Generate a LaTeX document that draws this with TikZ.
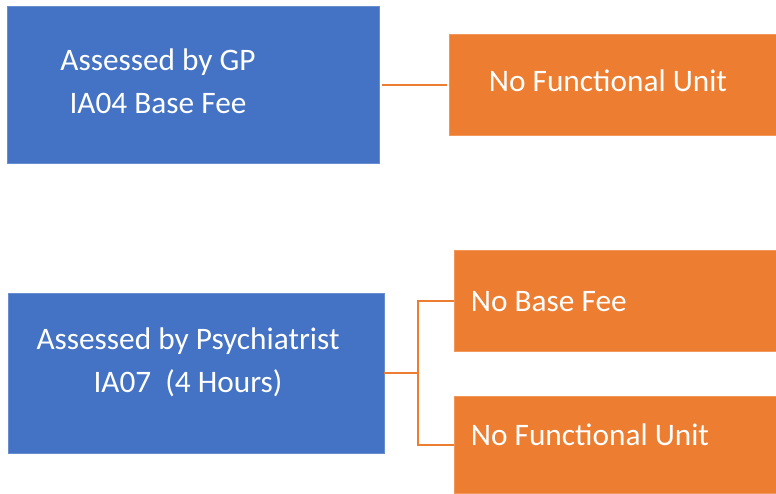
\documentclass[tikz,border=0pt]{standalone}
\usepackage{fontspec}
\setmainfont{Carlito}
\usetikzlibrary{positioning}
\definecolor{gpblue}{HTML}{4472C4}
\definecolor{feeorange}{HTML}{ED7D31}

\begin{document}
\begin{tikzpicture}[x=1pt, y=-1pt,
    bluebox/.style={fill=gpblue, draw=gpblue!80!white, line width=0.6pt, inner sep=0pt},
    orangebox/.style={fill=feeorange, draw=feeorange!80!white, line width=0.6pt, inner sep=0pt},
    boxtext/.style={text=white, inner sep=0pt, align=center, font=\fontsize{31.3}{43}\selectfont},
    link/.style={draw=feeorange, line width=2pt}]
    % Page
    \useasboundingbox (0,0) rectangle (776,493);
    % Boxes
    \node[bluebox, minimum width=372pt, minimum height=157pt] (gp) at (193,84.5) {};
    \node[bluebox, minimum width=376pt, minimum height=160pt] (psy) at (196,373) {};
    \node[orangebox, minimum width=327pt, minimum height=101pt] (nofu) at (612.5,84.5) {};
    \node[orangebox, minimum width=322pt, minimum height=101pt] (nobase) at (615,300.5) {};
    \node[orangebox, minimum width=322pt, minimum height=97pt] (nofutwo) at (615,444.5) {};
    % Texts
    \node[boxtext] (gptext) at ([xshift=-35pt, yshift=3pt]gp.center) {Assessed by GP\\IA04 Base Fee};
    \node[boxtext] (psytext) at ([xshift=-8pt, yshift=11pt]psy.center) {Assessed by Psychiatrist\\IA07~~(4 Hours)};
    \node[boxtext, anchor=west] (nofutext) at ([xshift=40pt, yshift=4pt]nofu.west) {No Functional Unit};
    \node[boxtext, anchor=west] (nobasetext) at ([xshift=17pt, yshift=-1pt]nobase.west) {No Base Fee};
    \node[boxtext, anchor=west] (nofutwotext) at ([xshift=17pt, yshift=10pt]nofutwo.west) {No Functional Unit};
    % Connectors
    \draw[link, shorten <=3pt, shorten >=2pt] (gp.east) -- (nofu.west);
    \draw[link] (psy.east) -- ++(34,0) coordinate (fork);
    \draw[link] (fork) |- (nobase.west);
    \draw[link] (fork) |- (nofutwo.west);
\end{tikzpicture}
\end{document}
